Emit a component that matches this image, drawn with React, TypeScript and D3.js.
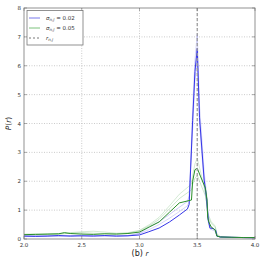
import React from 'react'
import * as d3 from 'd3'

// r samples and P(r) readings
const rBlue = [2.0, 2.1, 2.2, 2.3, 2.4, 2.5, 2.6, 2.7, 2.8, 2.9, 3.0, 3.08, 3.17, 3.26, 3.345, 3.415, 3.43, 3.46, 3.48, 3.5, 3.52, 3.56, 3.58, 3.595, 3.61, 3.64, 3.66, 3.67, 3.7, 3.8, 3.9, 4.0]
const blueMain = [0.1, 0.09, 0.1, 0.12, 0.1, 0.11, 0.1, 0.12, 0.1, 0.11, 0.14, 0.25, 0.38, 0.59, 0.83, 1.04, 1.2, 4.1, 5.8, 6.6, 4.2, 2.04, 1.46, 0.66, 0.38, 0.36, 0.3, 0.1, 0.07, 0.06, 0.05, 0.04]
const blueFaint1 = [0.08, 0.1, 0.09, 0.1, 0.12, 0.1, 0.11, 0.1, 0.12, 0.11, 0.18, 0.32, 0.5, 0.72, 0.95, 1.15, 1.3, 4.5, 6.2, 7.1, 4.6, 2.3, 1.6, 0.8, 0.45, 0.35, 0.28, 0.12, 0.06, 0.05, 0.05, 0.04]
const blueFaint2 = [0.12, 0.11, 0.12, 0.1, 0.11, 0.13, 0.12, 0.11, 0.1, 0.12, 0.2, 0.4, 0.6, 0.85, 1.1, 1.3, 1.5, 3.8, 5.5, 6.3, 4.0, 1.9, 1.3, 0.6, 0.35, 0.3, 0.25, 0.1, 0.07, 0.05, 0.05, 0.05]

const rGreen = [2.0, 2.1, 2.2, 2.3, 2.35, 2.4, 2.5, 2.6, 2.7, 2.8, 2.9, 3.0, 3.086, 3.17, 3.26, 3.345, 3.45, 3.46, 3.48, 3.5, 3.53, 3.57, 3.585, 3.59, 3.6, 3.62, 3.655, 3.67, 3.7, 3.8, 3.9, 4.0]
const greenMain = [0.15, 0.16, 0.17, 0.18, 0.22, 0.19, 0.17, 0.16, 0.18, 0.17, 0.19, 0.24, 0.42, 0.59, 0.93, 1.25, 1.35, 2.0, 2.4, 2.45, 2.15, 1.77, 1.35, 0.76, 0.59, 0.42, 0.31, 0.1, 0.07, 0.06, 0.05, 0.05]
const greenFaint1 = [0.17, 0.18, 0.16, 0.19, 0.2, 0.22, 0.25, 0.27, 0.24, 0.2, 0.22, 0.3, 0.5, 0.75, 1.15, 1.55, 1.9, 2.2, 2.6, 2.8, 2.3, 1.6, 1.1, 0.9, 0.7, 0.55, 0.4, 0.15, 0.07, 0.06, 0.05, 0.05]
const greenFaint2 = [0.14, 0.15, 0.17, 0.16, 0.18, 0.2, 0.22, 0.2, 0.19, 0.18, 0.2, 0.28, 0.46, 0.68, 1.05, 1.4, 1.7, 1.9, 2.1, 2.2, 1.9, 1.5, 1.2, 1.0, 0.8, 0.6, 0.45, 0.18, 0.08, 0.06, 0.05, 0.05]

const xTicks = [2.0, 2.5, 3.0, 3.5, 4.0]
const yTicks = [0, 1, 2, 3, 4, 5, 6, 7, 8]
const rRef = 3.5

const App: React.FC = () => {
  const x = d3.scaleLinear().domain([2, 4]).range([24, 255])
  const y = d3.scaleLinear().domain([0, 8]).range([239, 8])

  const line = (rs: number[], ps: number[]) =>
    d3
      .line<number>()
      .x((_, i) => x(rs[i]))
      .y((p) => y(p))(ps) || ''

  const font = 'DejaVu Sans, sans-serif'

  return (
    <svg
      width={266}
      height={266}
      style={{ position: 'absolute', left: 0, top: 0, background: 'white' }}
    >
      {/* grid */}
      {xTicks.slice(1, -1).map((t) => (
        <line key={'gx' + t} x1={x(t)} x2={x(t)} y1={y(8)} y2={y(0)} stroke="#aaa" strokeWidth={0.6} strokeDasharray="1,1.5" />
      ))}
      {yTicks.slice(1, -1).map((t) => (
        <line key={'gy' + t} x1={x(2)} x2={x(4)} y1={y(t)} y2={y(t)} stroke="#aaa" strokeWidth={0.6} strokeDasharray="1,1.5" />
      ))}

      {/* faint realizations */}
      <path d={line(rGreen, greenFaint1)} fill="none" stroke="#2e9a2e" strokeOpacity={0.25} strokeWidth={0.8} />
      <path d={line(rGreen, greenFaint2)} fill="none" stroke="#2e9a2e" strokeOpacity={0.3} strokeWidth={0.8} />
      <path d={line(rBlue, blueFaint1)} fill="none" stroke="#3030e0" strokeOpacity={0.25} strokeWidth={0.8} />
      <path d={line(rBlue, blueFaint2)} fill="none" stroke="#3030e0" strokeOpacity={0.3} strokeWidth={0.8} />

      {/* main curves */}
      <path d={line(rBlue, blueMain)} fill="none" stroke="#3535e8" strokeWidth={1} />
      <path d={line(rGreen, greenMain)} fill="none" stroke="#2a8f2a" strokeWidth={1} />

      {/* r_{n,j} marker */}
      <line x1={x(rRef)} x2={x(rRef)} y1={y(8)} y2={y(0)} stroke="#999" strokeWidth={1.2} strokeDasharray="3,2" />

      {/* frame */}
      <rect x={x(2)} y={y(8)} width={x(4) - x(2)} height={y(0) - y(8)} fill="none" stroke="#777" strokeWidth={0.8} />

      {/* ticks */}
      {xTicks.map((t) => (
        <g key={'xt' + t}>
          <line x1={x(t)} x2={x(t)} y1={y(0)} y2={y(0) - 3} stroke="#777" strokeWidth={0.6} />
          <line x1={x(t)} x2={x(t)} y1={y(8)} y2={y(8) + 3} stroke="#777" strokeWidth={0.6} />
          <text x={x(t)} y={y(0) + 8} fontSize={5.5} textAnchor="middle" fill="#333" fontFamily={font}>
            {t.toFixed(1)}
          </text>
        </g>
      ))}
      {yTicks.map((t) => (
        <g key={'yt' + t}>
          <line x1={x(2)} x2={x(2) + 3} y1={y(t)} y2={y(t)} stroke="#777" strokeWidth={0.6} />
          <line x1={x(4)} x2={x(4) - 3} y1={y(t)} y2={y(t)} stroke="#777" strokeWidth={0.6} />
          <text x={x(2) - 3} y={y(t) + 2} fontSize={5.5} textAnchor="end" fill="#333" fontFamily={font}>
            {t}
          </text>
        </g>
      ))}

      {/* legend */}
      <rect x={27} y={10.5} width={56} height={34.5} fill="white" stroke="#777" strokeWidth={0.8} />
      <line x1={29} x2={40} y1={18} y2={18} stroke="#7878ec" strokeWidth={1} />
      <line x1={29} x2={40} y1={28} y2={28} stroke="#7cc27c" strokeWidth={1} />
      <line x1={29} x2={40} y1={38} y2={38} stroke="#555" strokeWidth={0.8} strokeDasharray="2,2" />
      <text x={46} y={20} fontSize={5.5} fill="#333" fontFamily={font}>
        <tspan fontStyle="italic">σ</tspan>
        <tspan fontSize={4} dy={1} fontStyle="italic">n,j</tspan>
        <tspan dy={-1}> = 0.02</tspan>
      </text>
      <text x={46} y={30} fontSize={5.5} fill="#333" fontFamily={font}>
        <tspan fontStyle="italic">σ</tspan>
        <tspan fontSize={4} dy={1} fontStyle="italic">n,j</tspan>
        <tspan dy={-1}> = 0.05</tspan>
      </text>
      <text x={46} y={40} fontSize={5.5} fill="#333" fontFamily={font}>
        <tspan fontStyle="italic">r</tspan>
        <tspan fontSize={4} dy={1} fontStyle="italic">n,j</tspan>
      </text>

      {/* axis labels */}
      <text transform={`translate(11,${y(4)}) rotate(-90)`} fontSize={7.5} textAnchor="middle" fill="#222" fontFamily={font}>
        <tspan fontStyle="italic">P</tspan>(<tspan fontStyle="italic">r</tspan>)
      </text>
      <text x={140} y={256} fontSize={8} textAnchor="middle" fill="#222" fontFamily={font}>
        (b) <tspan fontStyle="italic" fontSize={7}>r</tspan>
      </text>
    </svg>
  )
}

export default App
